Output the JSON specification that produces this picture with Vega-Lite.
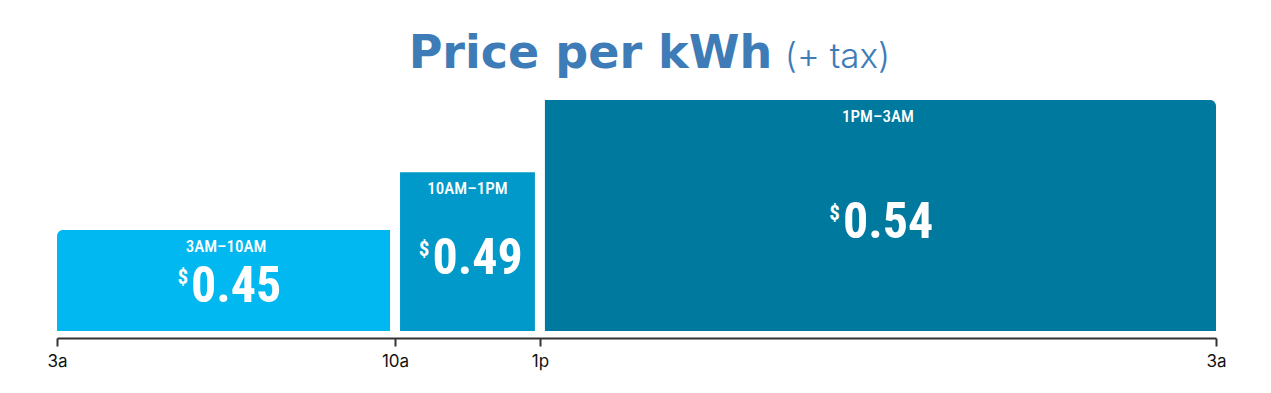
{
  "$schema": "https://vega.github.io/schema/vega-lite/v6.json",
  "width": 1159,
  "height": 231,
  "autosize": {"type": "none"},
  "padding": {"left": 57, "top": 100, "right": 55, "bottom": 62},
  "background": "white",
  "config": {"view": {"stroke": null}},
  "data": {
    "values": [
      {"period": "3AM–10AM", "start": 3, "end": 10, "price": 0.45},
      {"period": "10AM–1PM", "start": 10, "end": 13, "price": 0.49},
      {"period": "1PM–3AM", "start": 13, "end": 27, "price": 0.54}
    ]
  },
  "resolve": {"scale": {"y": "independent"}},
  "layer": [
    {
      "mark": {"type": "bar", "cornerRadiusTopLeft": 6, "cornerRadiusTopRight": 6},
      "encoding": {
        "x": {
          "field": "start", "type": "quantitative",
          "scale": {"domain": [3, 27], "nice": false, "zero": false},
          "axis": {
            "title": null, "grid": false, "values": [3, 10, 13, 27],
            "labelExpr": "datum.value == 10 ? '10a' : datum.value == 13 ? '1p' : '3a'",
            "labelFlush": false, "labelOverlap": false,
            "domainColor": "#333333", "domainWidth": 2,
            "tickColor": "#333333", "tickWidth": 2, "tickSize": 8,
            "labelFont": "Inter", "labelFontSize": 17, "labelColor": "#111111",
            "labelPadding": 7, "offset": 7
          }
        },
        "x2": {"field": "end"},
        "y": {"field": "price", "type": "quantitative", "scale": {"domain": [0.38, 0.54], "nice": false, "zero": false}, "axis": null},
        "y2": {"datum": 0.38},
        "color": {
          "field": "period", "type": "nominal", "legend": null,
          "scale": {"domain": ["3AM–10AM", "10AM–1PM", "1PM–3AM"], "range": ["#02B8F0", "#0199C9", "#00799E"]}
        }
      }
    },
    {
      "data": {"values": [{"hour": 10}, {"hour": 13}]},
      "mark": {"type": "rule", "color": "white", "strokeWidth": 10},
      "encoding": {
        "x": {"field": "hour", "type": "quantitative", "scale": {"domain": [3, 27], "nice": false, "zero": false}},
        "y": {"datum": 0.38, "type": "quantitative", "scale": {"domain": [0.38, 0.54], "nice": false, "zero": false}, "axis": null},
        "y2": {"datum": 0.545}
      }
    },
    {
      "transform": [{"fold": ["start", "end"], "as": ["edge", "hour"]}],
      "mark": {"type": "text", "font": "Roboto Condensed, Roboto", "fontWeight": 500, "fontSize": 17, "color": "white", "baseline": "top", "dy": 9},
      "encoding": {
        "x": {"field": "hour", "aggregate": "mean", "type": "quantitative", "scale": {"domain": [3, 27], "nice": false, "zero": false}},
        "y": {"field": "price", "type": "quantitative", "scale": {"domain": [0.38, 0.54], "nice": false, "zero": false}, "axis": null},
        "text": {"field": "period"}
      }
    },
    {
      "transform": [{"fold": ["start", "end"], "as": ["edge", "hour"]}],
      "mark": {"type": "text", "font": "Roboto Condensed, Roboto", "fontWeight": "bold", "fontSize": 50, "color": "white", "baseline": "alphabetic", "align": "left", "dx": -35, "dy": 22},
      "encoding": {
        "x": {"field": "hour", "aggregate": "mean", "type": "quantitative", "scale": {"domain": [3, 27], "nice": false, "zero": false}},
        "y": {"field": "price", "type": "quantitative", "scale": {"domain": [0.38, 0.70], "nice": false, "zero": false}, "axis": null},
        "text": {"field": "price", "format": ".2f"}
      }
    },
    {
      "transform": [{"fold": ["start", "end"], "as": ["edge", "hour"]}],
      "mark": {"type": "text", "font": "Roboto Condensed, Roboto", "fontWeight": "bold", "fontSize": 21, "color": "white", "baseline": "alphabetic", "align": "right", "dx": -38, "dy": 4, "text": "$"},
      "encoding": {
        "x": {"field": "hour", "aggregate": "mean", "type": "quantitative", "scale": {"domain": [3, 27], "nice": false, "zero": false}},
        "y": {"field": "price", "type": "quantitative", "scale": {"domain": [0.38, 0.70], "nice": false, "zero": false}, "axis": null}
      }
    },
    {
      "data": {"values": [{"title": "Price per kWh", "note": "(+ tax)"}]},
      "layer": [
        {
          "mark": {"type": "text", "font": "DejaVu Sans", "fontWeight": "bold", "fontSize": 46, "color": "#3D7CB7", "align": "right", "baseline": "alphabetic"},
          "encoding": {
            "x": {"datum": 17.81, "type": "quantitative", "scale": {"domain": [3, 27], "nice": false, "zero": false}},
            "y": {"datum": 0.5625, "type": "quantitative", "scale": {"domain": [0.38, 0.54], "nice": false, "zero": false}, "axis": null},
            "text": {"field": "title"}
          }
        },
        {
          "mark": {"type": "text", "font": "Inter", "fontWeight": 300, "fontSize": 35, "color": "#3D7CB7", "align": "left", "baseline": "alphabetic"},
          "encoding": {
            "x": {"datum": 18.07, "type": "quantitative", "scale": {"domain": [3, 27], "nice": false, "zero": false}},
            "y": {"datum": 0.5625, "type": "quantitative", "scale": {"domain": [0.38, 0.54], "nice": false, "zero": false}, "axis": null},
            "text": {"field": "note"}
          }
        }
      ]
    }
  ]
}
